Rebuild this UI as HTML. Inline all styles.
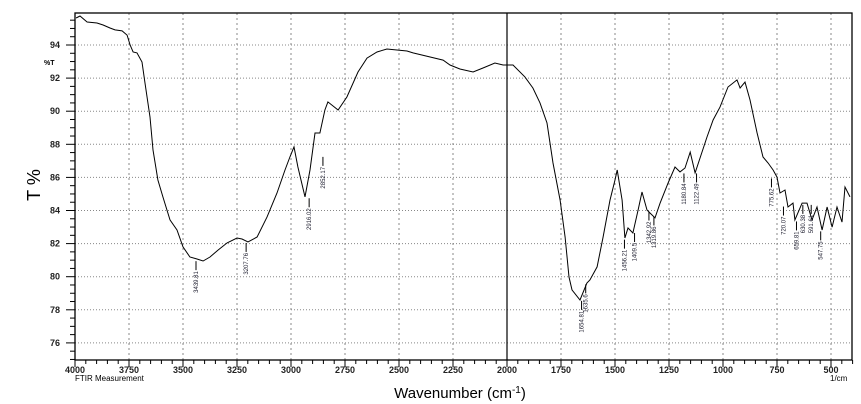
<!DOCTYPE html>
<html><head><meta charset="utf-8"><style>
html,body{margin:0;padding:0;background:#fff;}
svg{display:block;font-family:"Liberation Sans",sans-serif;}
</style></head><body>
<svg id="chart" width="861" height="404" viewBox="0 0 861 404">
<g id="grid"></g>
<g id="axes"></g>
<g id="series"></g>
<g id="peaks"></g>
<text x="44" y="65" font-size="7" font-weight="bold">%T</text>
<text transform="translate(40,185) rotate(-90)" font-size="18" text-anchor="middle">T %</text>
<text x="75" y="381" font-size="8">FTIR Measurement</text>
<text x="830" y="381" font-size="8">1/cm</text>
<text x="460" y="398" font-size="15" text-anchor="middle">Wavenumber (cm<tspan dy="-5" font-size="10">-1</tspan><tspan dy="5">)</tspan></text>
</svg>
<script>
const wavenumbers=[3995,3977,3944,3898,3870,3838,3815,3782,3759,3745,3731,3713,3690,3676,3653,3639,3616,3593,3560,3528,3500,3468,3435,3407,3375,3338,3296,3250,3227,3199,3157,3111,3065,3028,3005,2986,2968,2935,2912,2889,2866,2843,2829,2782,2741,2690,2648,2602,2556,2463,2435,2296,2264,2218,2157,2111,2056,2018,1972,1917,1880,1847,1815,1787,1754,1731,1713,1699,1662,1630,1616,1583,1555,1523,1500,1490,1467,1454,1440,1417,1393,1375,1352,1338,1315,1291,1254,1222,1199,1176,1152,1129,1074,1046,1014,977,935,921,898,875,842,815,791,768,750,736,713,699,676,667,634,611,588,565,541,518,495,472,449,435,412];
const transmittance=[95.63,95.75,95.39,95.33,95.21,95.03,94.91,94.85,94.6,94.0,93.58,93.52,92.97,91.7,89.65,87.66,85.84,84.82,83.43,82.82,81.8,81.19,81.07,80.95,81.19,81.61,82.04,82.34,82.28,82.1,82.4,83.6,85.06,86.45,87.23,87.84,86.63,84.82,86.45,88.68,88.68,90.07,90.56,90.07,90.86,92.37,93.21,93.58,93.76,93.64,93.52,93.09,92.79,92.55,92.37,92.61,92.91,92.79,92.79,92.07,91.4,90.5,89.29,86.87,84.63,82.4,79.98,79.2,78.59,79.62,79.8,80.59,82.4,84.63,85.84,86.45,84.63,82.34,82.94,82.64,84.03,85.12,84.03,83.85,83.55,84.45,85.66,86.63,86.33,86.57,87.53,86.27,88.44,89.47,90.25,91.46,91.89,91.4,91.76,90.68,88.68,87.23,86.87,86.45,86.02,85.06,85.24,84.21,84.45,83.43,84.45,84.45,83.43,84.21,82.82,84.21,83.0,84.21,83.3,85.42,84.82];
const xTicks=[4000,3750,3500,3250,3000,2750,2500,2250,2000,1750,1500,1250,1000,750,500];
const yTicks=[76,78,80,82,84,86,88,90,92,94];
const peakWn=[3439.81,3207.76,2916.02,2852.17,1654.81,1635.6,1456.21,1409.5,1342.92,1319.86,1180.84,1122.49,775.62,720.07,659.81,630.38,591.61,547.75];
const peakT=[81.0,82.1,84.8,87.3,78.6,79.6,82.3,82.7,84.0,83.7,86.3,86.3,86.0,84.3,83.4,84.4,84.4,82.8];

const L=75,R=852,T=13,B=360;
const X=w=>L+(4000-w)*0.216;
const Y=t=>45+(94-t)*16.55;
const NS="http://www.w3.org/2000/svg";
function mk(tag,attrs,parent){const e=document.createElementNS(NS,tag);for(const k in attrs)e.setAttribute(k,attrs[k]);parent.appendChild(e);return e;}
const grid=document.getElementById('grid'),axes=document.getElementById('axes'),series=document.getElementById('series'),peaks=document.getElementById('peaks');

yTicks.forEach(t=>{
 const g=mk('line',{x1:L,x2:R,y1:Y(t),y2:Y(t),stroke:'#888','stroke-width':1,'stroke-dasharray':'1,2'},grid);
 
 
 const lb=mk('text',{x:60,y:Y(t)+3,'font-size':9,'font-weight':'bold','text-anchor':'end',fill:'#222'},axes);
 lb.textContent=t;
 
 
});
for(let t=75;t<=96;t+=0.5){
 const y=Y(t); if(y<T||y>B) continue;
 const major=Number.isInteger(t)&&t%2===0;
 const tk=mk('line',{x1:L-(major?9:5),x2:L,y1:y,y2:y,stroke:'#000','stroke-width':1},axes);
 
 
}
xTicks.forEach(w=>{
 if(w!==4000&&w!==2000){
  const g=mk('line',{x1:X(w),x2:X(w),y1:T,y2:B,stroke:'#888','stroke-width':1,'stroke-dasharray':'2,3'},grid);
  
  
 }
 const lb=mk('text',{x:X(w),y:373,'font-size':9,'font-weight':'bold','text-anchor':'middle',fill:'#222'},axes);
 lb.textContent=w;
 
 
});
for(let w=4000;w>=400;w-=50){
 const major=w%250===0;
 const tk=mk('line',{x1:X(w),x2:X(w),y1:B,y2:B+(major?7:4),stroke:'#000','stroke-width':1},axes);
 
 
}
const frame=mk('rect',{x:L,y:T,width:R-L,height:B-T,fill:'none',stroke:'#000','stroke-width':1.3},axes);


const div=mk('line',{x1:X(2000),x2:X(2000),y1:T,y2:B,stroke:'#000','stroke-width':1.2},axes);



const pts=wavenumbers.map((w,i)=>X(w).toFixed(1)+','+Y(transmittance[i]).toFixed(1)).join(' ');
const line=mk('polyline',{points:pts,fill:'none',stroke:'#000','stroke-width':1},series);



peakWn.forEach((w,i)=>{
 const x=X(w),y=Y(peakT[i]);
 const tk=mk('line',{x1:x,x2:x,y1:y+1,y2:y+10,stroke:'#000','stroke-width':1},peaks);
 
 
 const lb=mk('text',{transform:`translate(${x+2},${y+11}) rotate(-90)`,'font-size':6,'text-anchor':'end',fill:'#223'},peaks);
 lb.textContent=w;
 
 
});
</script>
</body></html>
